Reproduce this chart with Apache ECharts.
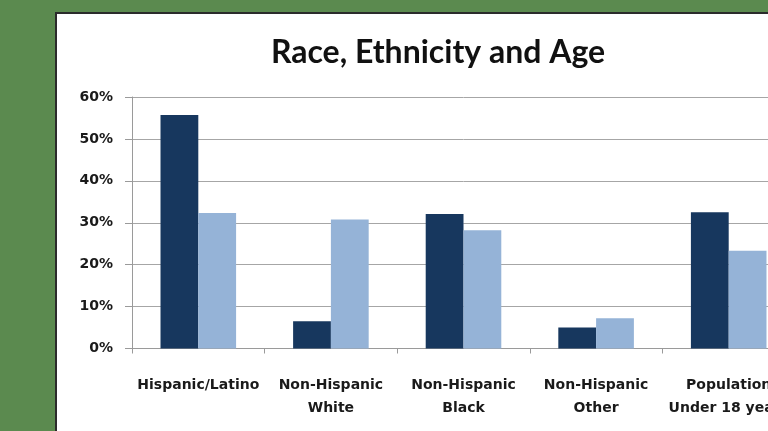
<!DOCTYPE html>
<html>
<head>
<meta charset="utf-8">
<script src="https://cdn.jsdelivr.net/npm/echarts@6/dist/echarts.min.js"></script>
<style>
html,body{margin:0;padding:0;overflow:hidden;background:#5b8a4f;}
#chart{width:800px;height:431px;}
</style>
</head>
<body>
<div id="chart"></div>
<script>
var titleText = 'Race, Ethnicity and Age';
var categories = ['Hispanic/Latino', 'Non-Hispanic\nWhite', 'Non-Hispanic\nBlack', 'Non-Hispanic\nOther', 'Population\nUnder 18 years'];
var seriesDark = [0.557, 0.065, 0.321, 0.050, 0.325];
var seriesLight = [0.323, 0.308, 0.282, 0.072, 0.233];
var yTicks = [0, 0.1, 0.2, 0.3, 0.4, 0.5, 0.6];

var chart = echarts.init(document.getElementById('chart'), null, {renderer: 'canvas'});
chart.setOption({
  backgroundColor: '#5b8a4f',
  animation: false,
  graphic: [
    {type: 'rect', z: -10, shape: {x: 56, y: 13, width: 800, height: 500},
     style: {fill: '#ffffff', stroke: '#2b2b2b', lineWidth: 2}},
    {type: 'text', x: 438, y: 53, z: 10,
     style: {text: titleText, align: 'center', verticalAlign: 'middle',
             font: 'bold 32px Lato', fill: '#111111'}}
  ],
  grid: {left: 132, right: 5, top: 97, bottom: 82.5},
  xAxis: {
    type: 'category',
    data: categories,
    axisLine: {lineStyle: {color: '#9a9a9a', width: 1}},
    axisTick: {show: true, length: 5, lineStyle: {color: '#9a9a9a'}},
    axisLabel: {
      interval: 0, margin: 25, color: '#1a1a1a',
      fontFamily: 'DejaVu Sans', fontWeight: 'bold', fontSize: 14, lineHeight: 23
    }
  },
  yAxis: {
    type: 'value', min: 0, max: 0.6, interval: 0.1,
    axisLine: {show: true, lineStyle: {color: '#9a9a9a', width: 1}},
    axisTick: {show: true, length: 7, lineStyle: {color: '#9a9a9a'}},
    splitLine: {lineStyle: {color: '#a6a6a6', width: 1}},
    axisLabel: {
      margin: 19, color: '#1a1a1a',
      fontFamily: 'DejaVu Sans', fontWeight: 'bold', fontSize: 14,
      formatter: function (v) { return Math.round(v * 100) + '%'; }
    }
  },
  series: [
    {type: 'bar', data: seriesDark, barGap: '0%', barCategoryGap: '43%',
     itemStyle: {color: '#17375e'}},
    {type: 'bar', data: seriesLight, barGap: '0%', barCategoryGap: '43%',
     itemStyle: {color: '#95b3d7'}}
  ]
});
</script>
</body>
</html>
